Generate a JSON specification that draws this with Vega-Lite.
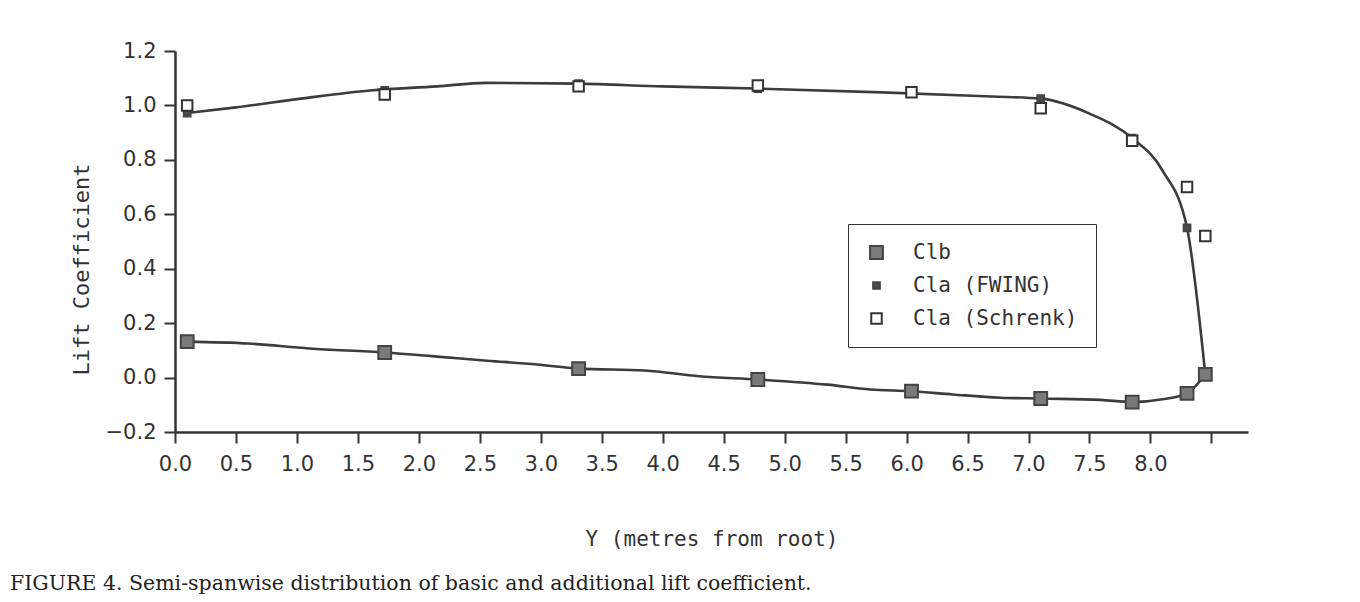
{
  "$schema": "https://vega.github.io/schema/vega-lite/v6.json",
  "width": 1073,
  "height": 381,
  "autosize": "none",
  "padding": {"left": 175, "top": 51, "right": 112, "bottom": 170},
  "background": "white",
  "config": {"view": {"stroke": null}, "font": "DejaVu Sans"},
  "title": {
    "text": "FIGURE 4. Semi-spanwise distribution of basic and additional lift coefficient.",
    "orient": "bottom",
    "anchor": "start",
    "frame": "group",
    "font": "DejaVu Serif",
    "fontSize": 20.5,
    "fontWeight": "normal",
    "color": "#222",
    "offset": 25,
    "dx": -165
  },
  "datasets": {
    "curves": [
      {"series": "FWING", "x": 0.1, "value": 0.972},
      {"series": "FWING", "x": 0.5, "value": 0.993},
      {"series": "FWING", "x": 1.05, "value": 1.026},
      {"series": "FWING", "x": 1.6, "value": 1.055},
      {"series": "FWING", "x": 2.15, "value": 1.07},
      {"series": "FWING", "x": 2.55, "value": 1.083},
      {"series": "FWING", "x": 3.3, "value": 1.08},
      {"series": "FWING", "x": 4.0, "value": 1.07},
      {"series": "FWING", "x": 4.78, "value": 1.062},
      {"series": "FWING", "x": 5.8, "value": 1.048},
      {"series": "FWING", "x": 6.7, "value": 1.033},
      {"series": "FWING", "x": 7.1, "value": 1.025},
      {"series": "FWING", "x": 7.5, "value": 0.97},
      {"series": "FWING", "x": 7.85, "value": 0.88},
      {"series": "FWING", "x": 8.1, "value": 0.76},
      {"series": "FWING", "x": 8.3, "value": 0.55},
      {"series": "FWING", "x": 8.45, "value": 0.01},
      {"series": "Clb", "x": 0.1, "value": 0.132},
      {"series": "Clb", "x": 0.6, "value": 0.125},
      {"series": "Clb", "x": 1.1, "value": 0.107},
      {"series": "Clb", "x": 1.72, "value": 0.092},
      {"series": "Clb", "x": 2.15, "value": 0.077},
      {"series": "Clb", "x": 2.56, "value": 0.062},
      {"series": "Clb", "x": 2.97, "value": 0.048},
      {"series": "Clb", "x": 3.31, "value": 0.033},
      {"series": "Clb", "x": 3.85, "value": 0.026},
      {"series": "Clb", "x": 4.3, "value": 0.005},
      {"series": "Clb", "x": 4.78, "value": -0.007},
      {"series": "Clb", "x": 5.35, "value": -0.026},
      {"series": "Clb", "x": 5.7, "value": -0.044},
      {"series": "Clb", "x": 6.04, "value": -0.05},
      {"series": "Clb", "x": 6.38, "value": -0.062},
      {"series": "Clb", "x": 6.77, "value": -0.074},
      {"series": "Clb", "x": 7.1, "value": -0.077},
      {"series": "Clb", "x": 7.59, "value": -0.082},
      {"series": "Clb", "x": 7.85, "value": -0.09},
      {"series": "Clb", "x": 8.1, "value": -0.08},
      {"series": "Clb", "x": 8.3, "value": -0.058},
      {"series": "Clb", "x": 8.45, "value": 0.012}
    ],
    "points": [
      {"series": "Clb", "x": 0.1, "value": 0.132},
      {"series": "Clb", "x": 1.72, "value": 0.092},
      {"series": "Clb", "x": 3.31, "value": 0.033},
      {"series": "Clb", "x": 4.78, "value": -0.007},
      {"series": "Clb", "x": 6.04, "value": -0.05},
      {"series": "Clb", "x": 7.1, "value": -0.077},
      {"series": "Clb", "x": 7.85, "value": -0.09},
      {"series": "Clb", "x": 8.3, "value": -0.058},
      {"series": "Clb", "x": 8.45, "value": 0.012},
      {"series": "Cla (FWING)", "x": 0.1, "value": 0.972},
      {"series": "Cla (FWING)", "x": 1.72, "value": 1.055},
      {"series": "Cla (FWING)", "x": 3.31, "value": 1.08},
      {"series": "Cla (FWING)", "x": 4.78, "value": 1.062},
      {"series": "Cla (FWING)", "x": 6.04, "value": 1.045},
      {"series": "Cla (FWING)", "x": 7.1, "value": 1.025},
      {"series": "Cla (FWING)", "x": 7.85, "value": 0.88},
      {"series": "Cla (FWING)", "x": 8.3, "value": 0.55},
      {"series": "Cla (Schrenk)", "x": 0.1, "value": 1.0},
      {"series": "Cla (Schrenk)", "x": 1.72, "value": 1.04},
      {"series": "Cla (Schrenk)", "x": 3.31, "value": 1.07},
      {"series": "Cla (Schrenk)", "x": 4.78, "value": 1.073},
      {"series": "Cla (Schrenk)", "x": 6.04, "value": 1.048},
      {"series": "Cla (Schrenk)", "x": 7.1, "value": 0.99},
      {"series": "Cla (Schrenk)", "x": 7.85, "value": 0.87},
      {"series": "Cla (Schrenk)", "x": 8.3, "value": 0.7},
      {"series": "Cla (Schrenk)", "x": 8.45, "value": 0.52}
    ]
  },
  "layer": [
    {
      "data": {"name": "curves"},
      "mark": {"type": "line", "interpolate": "monotone", "color": "#3c3c3c", "strokeWidth": 2.6},
      "encoding": {
        "x": {
          "field": "x",
          "type": "quantitative",
          "scale": {"domain": [0, 8.8], "nice": false, "zero": false},
          "axis": {
            "values": [0, 0.25, 0.5, 0.75, 1, 1.25, 1.5, 1.75, 2, 2.25, 2.5, 2.75, 3, 3.25, 3.5, 3.75, 4, 4.25, 4.5, 4.75, 5, 5.25, 5.5, 5.75, 6, 6.25, 6.5, 6.75, 7, 7.25, 7.5, 7.75, 8, 8.25, 8.5, 8.75],
            "labelExpr": "(datum.value % 0.5 === 0 && datum.value <= 8) ? format(datum.value, '.1f') : ''",
            "tickSize": {"condition": {"test": "datum.value % 0.5 === 0", "value": 11}, "value": 6},
            "grid": false,
            "domainColor": "#333",
            "domainWidth": 2.5,
            "tickColor": "#333",
            "tickWidth": 2,
            "labelFont": "DejaVu Sans",
            "labelFontSize": 21,
            "labelColor": "#333",
            "labelPadding": 10,
            "labelOverlap": false,
            "labelFlush": false,
            "title": "Y (metres from root)",
            "titleFont": "DejaVu Sans Mono",
            "titleFontSize": 21,
            "titleFontWeight": "normal",
            "titleColor": "#333",
            "titlePadding": 54
          }
        },
        "y": {
          "field": "value",
          "type": "quantitative",
          "scale": {"domain": [-0.2, 1.2], "nice": false, "zero": false},
          "axis": {
            "values": [-0.2, -0.1, 0, 0.1, 0.2, 0.3, 0.4, 0.5, 0.6, 0.7, 0.8, 0.9, 1.0, 1.1, 1.2],
            "labelExpr": "abs(round(datum.value * 10)) % 2 === 0 ? format(datum.value, '.1f') : ''",
            "tickSize": {"condition": {"test": "abs(round(datum.value * 10)) % 2 === 0", "value": 11}, "value": 6},
            "grid": false,
            "domainColor": "#333",
            "domainWidth": 2.5,
            "tickColor": "#333",
            "tickWidth": 2,
            "labelFont": "DejaVu Sans",
            "labelFontSize": 21,
            "labelColor": "#333",
            "labelPadding": 8,
            "labelOverlap": false,
            "labelFlush": false,
            "title": "Lift Coefficient",
            "titleFont": "DejaVu Sans Mono",
            "titleFontSize": 22,
            "titleFontWeight": "normal",
            "titleColor": "#333",
            "titlePadding": 12,
            "titleY": 218
          }
        },
        "detail": {"field": "series"}
      }
    },
    {
      "data": {"name": "points"},
      "mark": {"type": "square", "strokeWidth": 2, "opacity": 1},
      "encoding": {
        "x": {"field": "x", "type": "quantitative"},
        "y": {"field": "value", "type": "quantitative"},
        "fill": {
          "field": "series",
          "type": "nominal",
          "scale": {"domain": ["Clb", "Cla (FWING)", "Cla (Schrenk)"], "range": ["#7a7a7a", "#4a4a4a", "#ffffff"]},
          "legend": {
            "title": null,
            "orient": "none",
            "legendX": 673,
            "legendY": 173,
            "direction": "vertical",
            "padding": 18,
            "rowPadding": 11,
            "labelFont": "DejaVu Sans Mono",
            "labelFontSize": 21,
            "labelColor": "#333",
            "labelOffset": 26,
            "labelLimit": 400,
            "strokeColor": "#333",
            "fillColor": "white",
            "symbolStrokeWidth": 2
          }
        },
        "stroke": {
          "field": "series",
          "type": "nominal",
          "scale": {"domain": ["Clb", "Cla (FWING)", "Cla (Schrenk)"], "range": ["#444444", "#444444", "#333333"]},
          "legend": {
            "title": null,
            "orient": "none",
            "legendX": 673,
            "legendY": 173,
            "direction": "vertical",
            "padding": 18,
            "rowPadding": 11,
            "labelFont": "DejaVu Sans Mono",
            "labelFontSize": 21,
            "labelColor": "#333",
            "labelOffset": 26,
            "labelLimit": 400,
            "strokeColor": "#333",
            "fillColor": "white",
            "symbolStrokeWidth": 2
          }
        },
        "size": {
          "field": "series",
          "type": "nominal",
          "scale": {"type": "ordinal", "domain": ["Clb", "Cla (FWING)", "Cla (Schrenk)"], "range": [165, 45, 110]},
          "legend": {
            "title": null,
            "orient": "none",
            "legendX": 673,
            "legendY": 173,
            "direction": "vertical",
            "padding": 18,
            "rowPadding": 11,
            "labelFont": "DejaVu Sans Mono",
            "labelFontSize": 21,
            "labelColor": "#333",
            "labelOffset": 26,
            "labelLimit": 400,
            "strokeColor": "#333",
            "fillColor": "white",
            "symbolStrokeWidth": 2
          }
        }
      }
    }
  ]
}
